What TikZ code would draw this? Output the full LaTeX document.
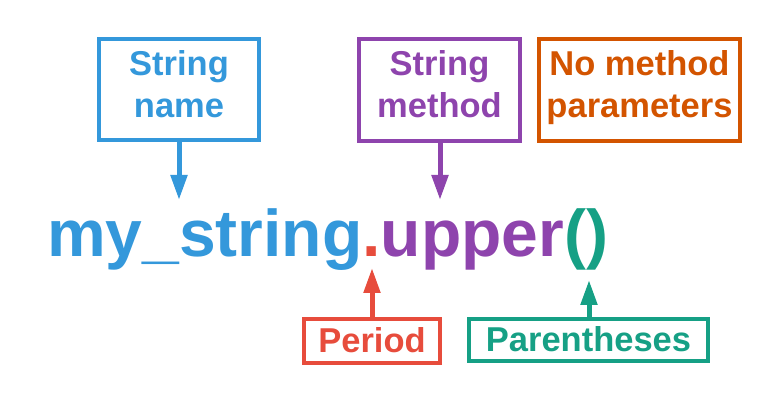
\documentclass[tikz,border=0pt]{standalone}
\usepackage{fontspec}
\setmainfont{Liberation Sans}
\usetikzlibrary{arrows.meta}
\definecolor{cblue}{HTML}{3498DB}
\definecolor{cpurple}{HTML}{8E44AD}
\definecolor{corange}{HTML}{D35400}
\definecolor{cred}{HTML}{E74C3C}
\definecolor{cgreen}{HTML}{16A085}
\tikzset{
  labelbox/.style={draw=#1, text=#1, line width=4.5pt, rectangle, inner sep=0pt,
    align=center, font=\fontsize{34.5}{42}\selectfont\bfseries},
  onebox/.style={labelbox=#1, text height=26pt, text depth=3pt},
  pointer/.style={draw=#1, line width=5pt, -{Triangle[length=25pt,width=16pt]}},
  codetext/.style={inner sep=0pt, anchor=base west, font=\fontsize{66}{70}\selectfont\bfseries}
}
\newcommand{\toprule}{\rule{0pt}{26pt}}
\newcommand{\botrule}{\rule[-12pt]{0pt}{12pt}}
\begin{document}
\begin{tikzpicture}[x=1pt,y=-1pt]
\useasboundingbox (0,0) rectangle (780,403);
% top boxes
\node[labelbox=cblue, minimum width=160pt, minimum height=101pt] (sname) at (179,89.5)
  {\toprule String\\name\botrule};
\node[labelbox=cpurple, minimum width=161pt, minimum height=102pt] (smethod) at (439.5,90)
  {\toprule String\\method\botrule};
\node[labelbox=corange, minimum width=201pt, minimum height=102pt] (noparam) at (639.5,90)
  {\toprule No method\\parameters\botrule};
% code line
\node[codetext] (code) at (47,257)
  {\textcolor{cblue}{my\_string}\textcolor{cred}{.}\textcolor{cpurple}{upper}\textcolor{cgreen}{()}};
% bottom boxes
\node[onebox=cred, minimum width=136pt, minimum height=44pt] (period) at (372,341) {Period};
\node[onebox=cgreen, minimum width=239pt, minimum height=42pt] (paren) at (588.5,340) {Parentheses};
% arrow targets
\coordinate (tname) at (179,200);
\coordinate (tmethod) at (440,200);
\coordinate (tperiod) at (372,268);
\coordinate (tparen) at (589,280);
\draw[pointer=cblue] (sname.south) -- (tname);
\draw[pointer=cpurple] (smethod.south -| tmethod) -- (tmethod);
\draw[pointer=cred] (period.north) -- (tperiod);
\draw[pointer=cgreen] (paren.north -| tparen) -- (tparen);
\end{tikzpicture}
\end{document}
